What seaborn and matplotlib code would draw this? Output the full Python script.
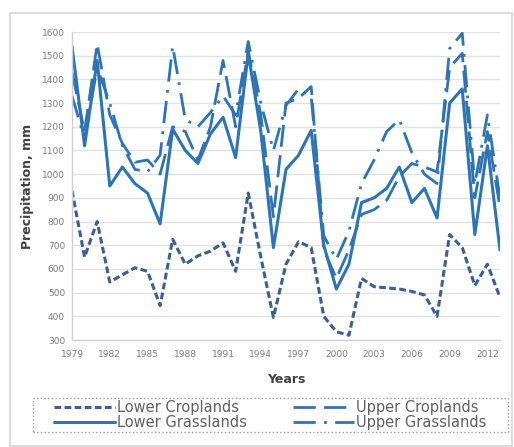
import matplotlib
matplotlib.use("Agg")
import matplotlib.pyplot as plt
from matplotlib.patches import Rectangle
import seaborn as sns
import pandas as pd

# Annual precipitation (mm), 1979-2013
years = list(range(1979, 2014))
lower_croplands = [930, 650, 800, 545, 575, 605, 590, 445, 725, 620,
                   655, 675, 710, 590, 920, 650, 395, 620, 715, 690,
                   400, 335, 320, 560, 525, 520, 515, 505, 490, 400,
                   745, 690, 530, 620, 480]
lower_grasslands = [1540, 1120, 1480, 950, 1030, 960, 920, 790, 1190, 1100,
                    1045, 1170, 1240, 1070, 1510, 1180, 690, 1020, 1080, 1185,
                    700, 515, 620, 880, 900, 940, 1030, 880, 940, 815,
                    1300, 1360, 745, 1120, 680]
upper_croplands = [1430, 1180, 1550, 1250, 1130, 1050, 1060, 1000, 1200, 1180,
                   1060, 1200, 1480, 1200, 1520, 1250, 820, 1300, 1320, 1370,
                   680, 560, 680, 830, 850, 890, 990, 1045, 1030, 1010,
                   1450, 1510, 900, 1180, 860]
upper_grasslands = [1330, 1150, 1450, 1300, 1120, 1020, 1010, 1080, 1540, 1230,
                    1200, 1260, 1330, 1250, 1560, 1300, 1100, 1290, 1360, 1330,
                    740, 640, 760, 960, 1060, 1180, 1230, 1090, 1000, 960,
                    1530, 1595, 960, 1250, 900]

tick_years = list(range(1979, 2013, 3))
y_ticks = list(range(300, 1700, 100))

sns.set_theme(style="white")
plt.rcParams["font.family"] = ["DejaVu Sans"]

df = pd.DataFrame({
    "Year": years * 4,
    "Precipitation": lower_croplands + lower_grasslands + upper_croplands + upper_grasslands,
    "Series": (["Lower Croplands"] * len(years) + ["Lower Grasslands"] * len(years)
               + ["Upper Croplands"] * len(years) + ["Upper Grasslands"] * len(years)),
})

fig = plt.figure(figsize=(5.14, 4.47), dpi=100)
ax = fig.add_axes([72 / 514, 1 - 340 / 447, 428 / 514, 308 / 447])

blue = "#2E74B5"
styles = {
    "Lower Croplands": dict(color="#3A5E98", dashes=(2.2, 1.1), lw=2.2),
    "Lower Grasslands": dict(color=blue, dashes=None, lw=2.2),
    "Upper Croplands": dict(color=blue, dashes=(8, 3), lw=2.0),
    "Upper Grasslands": dict(color=blue, dashes=(8, 3, 1, 3), lw=2.0),
}

handles = []
for name, st in styles.items():
    sub = df[df["Series"] == name]
    sns.lineplot(data=sub, x="Year", y="Precipitation", ax=ax, color=st["color"],
                 lw=st["lw"], label=name, legend=False)
    line = ax.lines[-1]
    line.set_solid_joinstyle("round")
    line.set_dash_joinstyle("round")
    if st["dashes"] is not None:
        line.set_dashes(st["dashes"])
    handles.append(line)

ax.set_xlim(1979, 2013)
ax.set_ylim(300, 1600)
ax.set_xticks(tick_years)
ax.set_xticklabels([str(y) for y in tick_years])
ax.set_yticks(y_ticks)
ax.tick_params(axis="both", labelsize=6.5, labelcolor="#7a7a7a", length=0)
ax.tick_params(axis="x", pad=7)
ax.tick_params(axis="y", pad=5)
ax.grid(axis="y", color="#e2e2e2", lw=1.0)
ax.grid(axis="x", visible=False)
for side in ["top", "right"]:
    ax.spines[side].set_visible(False)
for side in ["left", "bottom"]:
    ax.spines[side].set_color("#d0d0d0")
    ax.spines[side].set_linewidth(1.0)

ax.set_xlabel("Years", fontsize=9, fontweight="bold", color="#404040", labelpad=10)
ax.set_ylabel("Precipitation, mm", fontsize=9, fontweight="bold", color="#404040", labelpad=6)

leg = fig.legend(handles=handles, labels=list(styles.keys()), loc="center",
                 bbox_to_anchor=(270 / 514, 1 - 415 / 447),
                 ncol=2, fontsize=10.5, handlelength=4.2,
                 handletextpad=0.1, labelspacing=0.0, columnspacing=3.2,
                 borderpad=0.0, frameon=False, labelcolor="#606060")

# dotted legend box
fig.patches.append(Rectangle((33 / 514, 1 - 432 / 447), 475 / 514, 34 / 447,
                             transform=fig.transFigure, fill=False,
                             edgecolor="#9a9a9a", lw=1.0, linestyle=":"))

# chart area border
fig.patches.append(Rectangle((10 / 514, 1 / 447), 502 / 514, 433 / 447,
                             transform=fig.transFigure, fill=False,
                             edgecolor="#d6d6d6", lw=1.2))

fig.savefig("out.png", dpi=100)
